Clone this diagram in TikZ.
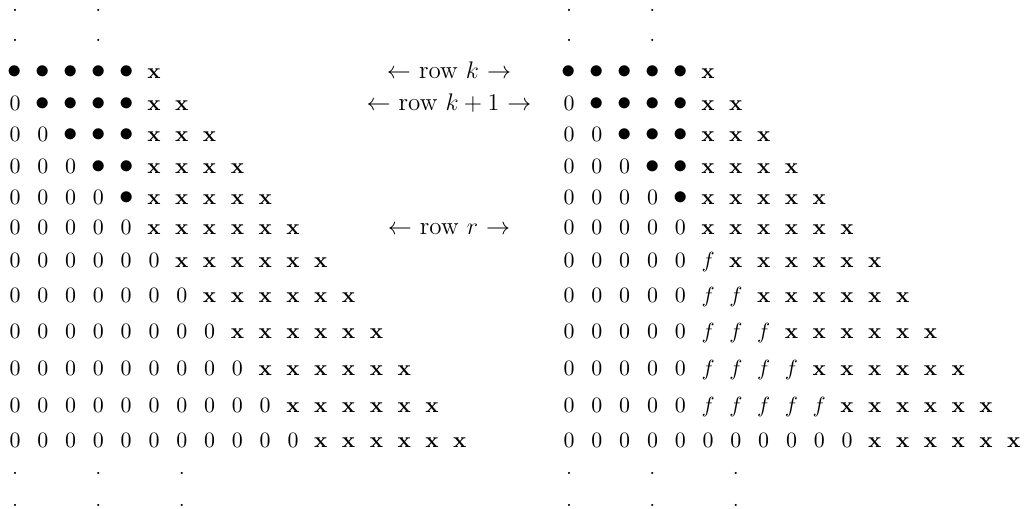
\documentclass[tikz,border=0pt]{standalone}
\usepackage{tikz}
\tikzset{
  entry/.style={inner sep=0pt,text height=7pt,text depth=0pt,
    font=\fontsize{11}{13}\selectfont},
  vdot/.style={anchor=base,inner sep=0pt,font=\fontsize{11}{13}\selectfont},
  tag/.style={inner sep=0pt,text height=7pt,text depth=0pt,
    font=\fontsize{12.5}{14}\selectfont},
}
\newcommand{\xb}{\mathbf{x}}
\newcommand{\bt}{\mbox{\fontsize{14}{15}\selectfont$\bullet$}}
\newcommand{\tabrow}[4]{%
  \foreach \v [count=\k from 0] in {#4}{
    \node[entry] (#1-\k) at (#2+\k*0.4885,#3) {$\v$};
  }}

\begin{document}
\begin{tikzpicture}
  \useasboundingbox (0,0) rectangle (17.994,-8.944);
  % vertical dots above and below each table
  \foreach \g/\x in {L/0.264,R/10.0}{
    \foreach \c in {0,3}{
      \node[vdot] (\g-top-a\c) at (\x+\c*0.4885,-0.205) {.};
      \node[vdot] (\g-top-b\c) at (\x+\c*0.4885,-0.722) {.};
    }
    \foreach \c in {0,3,6}{
      \node[vdot] (\g-bot-a\c) at (\x+\c*0.4885,-8.331) {.};
      \node[vdot] (\g-bot-b\c) at (\x+\c*0.4885,-8.893) {.};
    }
  }
  % left table
  \tabrow{L1}{0.264}{-1.265}{\bt,\bt,\bt,\bt,\bt,\xb}
  \tabrow{L2}{0.264}{-1.810}{0,\bt,\bt,\bt,\bt,\xb,\xb}
  \tabrow{L3}{0.264}{-2.355}{0,0,\bt,\bt,\bt,\xb,\xb,\xb}
  \tabrow{L4}{0.264}{-2.917}{0,0,0,\bt,\bt,\xb,\xb,\xb,\xb}
  \tabrow{L5}{0.264}{-3.462}{0,0,0,0,\bt,\xb,\xb,\xb,\xb,\xb}
  \tabrow{L6}{0.264}{-4.006}{0,0,0,0,0,\xb,\xb,\xb,\xb,\xb,\xb}
  \tabrow{L7}{0.264}{-4.569}{0,0,0,0,0,0,\xb,\xb,\xb,\xb,\xb,\xb}
  \tabrow{L8}{0.264}{-5.201}{0,0,0,0,0,0,0,\xb,\xb,\xb,\xb,\xb,\xb}
  \tabrow{L9}{0.264}{-5.834}{0,0,0,0,0,0,0,0,\xb,\xb,\xb,\xb,\xb,\xb}
  \tabrow{L10}{0.264}{-6.484}{0,0,0,0,0,0,0,0,0,\xb,\xb,\xb,\xb,\xb,\xb}
  \tabrow{L11}{0.264}{-7.117}{0,0,0,0,0,0,0,0,0,0,\xb,\xb,\xb,\xb,\xb,\xb}
  \tabrow{L12}{0.264}{-7.749}{0,0,0,0,0,0,0,0,0,0,0,\xb,\xb,\xb,\xb,\xb,\xb}
  % row labels
  \node[tag] (row-k) at (7.89,-1.265) {$\leftarrow$ row $k$ $\rightarrow$};
  \node[tag] (row-k1) at (7.89,-1.810) {$\leftarrow$ row $k+1$ $\rightarrow$};
  \node[tag] (row-r) at (7.89,-4.006) {$\leftarrow$ row $r$ $\rightarrow$};
  % right table
  \tabrow{R1}{10.0}{-1.265}{\bt,\bt,\bt,\bt,\bt,\xb}
  \tabrow{R2}{10.0}{-1.810}{0,\bt,\bt,\bt,\bt,\xb,\xb}
  \tabrow{R3}{10.0}{-2.355}{0,0,\bt,\bt,\bt,\xb,\xb,\xb}
  \tabrow{R4}{10.0}{-2.917}{0,0,0,\bt,\bt,\xb,\xb,\xb,\xb}
  \tabrow{R5}{10.0}{-3.462}{0,0,0,0,\bt,\xb,\xb,\xb,\xb,\xb}
  \tabrow{R6}{10.0}{-4.006}{0,0,0,0,0,\xb,\xb,\xb,\xb,\xb,\xb}
  \tabrow{R7}{10.0}{-4.569}{0,0,0,0,0,f,\xb,\xb,\xb,\xb,\xb,\xb}
  \tabrow{R8}{10.0}{-5.201}{0,0,0,0,0,f,f,\xb,\xb,\xb,\xb,\xb,\xb}
  \tabrow{R9}{10.0}{-5.834}{0,0,0,0,0,f,f,f,\xb,\xb,\xb,\xb,\xb,\xb}
  \tabrow{R10}{10.0}{-6.484}{0,0,0,0,0,f,f,f,f,\xb,\xb,\xb,\xb,\xb,\xb}
  \tabrow{R11}{10.0}{-7.117}{0,0,0,0,0,f,f,f,f,f,\xb,\xb,\xb,\xb,\xb,\xb}
  \tabrow{R12}{10.0}{-7.749}{0,0,0,0,0,0,0,0,0,0,0,\xb,\xb,\xb,\xb,\xb,\xb}
\end{tikzpicture}
\end{document}
